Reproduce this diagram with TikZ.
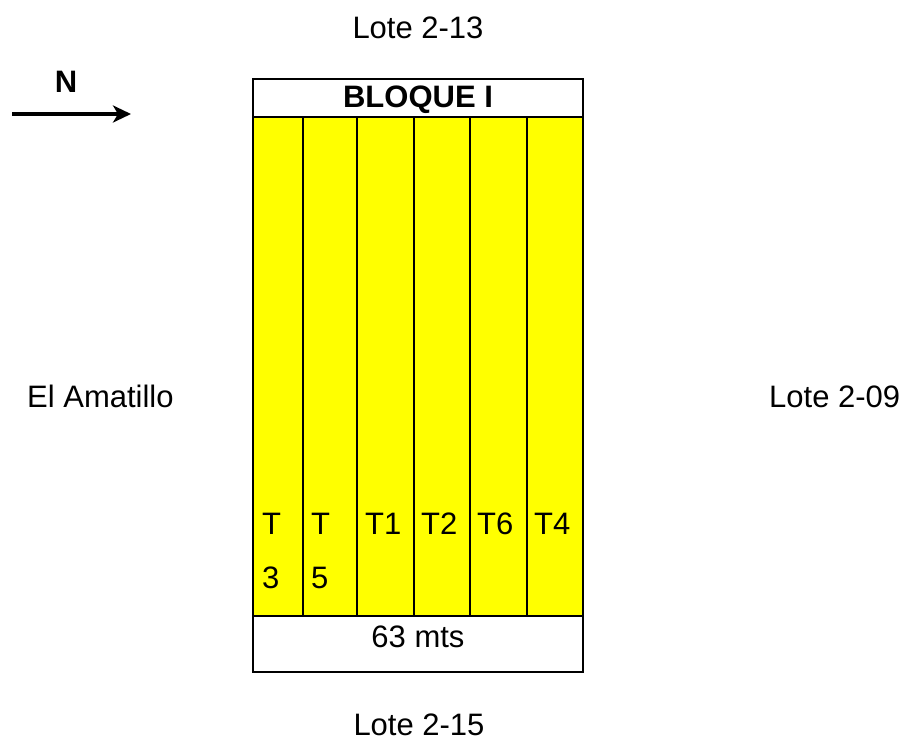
\documentclass[tikz,border=0pt]{standalone}
\usepackage{fontspec}
\setmainfont{Liberation Sans}
\usetikzlibrary{arrows.meta}
\definecolor{plotyellow}{RGB}{255,255,0}
\tikzset{
  lbl/.style={inner sep=0pt, font=\fontsize{31}{37}\selectfont},
  trt/.style={inner sep=0pt, anchor=base west, align=left,
              font=\fontsize{31}{54}\selectfont},
  frame/.style={draw=black, line width=2.2pt},
  divider/.style={draw=black, line width=2pt},
}
\begin{document}
\begin{tikzpicture}[x=1pt,y=-1pt]
  \useasboundingbox (0,0) rectangle (904,741);

  % surrounding lots
  \node[lbl, anchor=base] (north) at (418,39) {Lote 2-13};
  \node[lbl, anchor=base] (south) at (419,735) {Lote 2-15};
  \node[lbl, anchor=base west] (west) at (27,407) {El Amatillo};
  \node[lbl, anchor=base west] (east) at (769,407) {Lote 2-09};

  % north arrow
  \node[lbl, anchor=base, font=\bfseries\fontsize{31}{37}\selectfont] (nlabel) at (66,93) {N};
  \coordinate (arrS) at (12,114);
  \coordinate (arrE) at (131,114);
  \draw[line width=4.5pt, -{Stealth[length=18pt,width=17pt,inset=5pt]}] (arrS) -- (arrE);

  % block: yellow plots
  \fill[plotyellow] (253,117) rectangle (583,616);
  \foreach \x in {302.5,357,413.5,470,527}
    \draw[divider] (\x,117) -- (\x,616);
  \draw[divider] (253,117) -- (583,117);
  \draw[divider] (253,616) -- (583,616);
  \draw[frame] (253,79) rectangle (583,672);

  % header and footer
  \node[lbl, anchor=base, font=\bfseries\fontsize{31}{37}\selectfont] (header) at (418,108) {BLOQUE I};
  \node[lbl, anchor=base] (width) at (418,647) {63 mts};

  % treatment labels (narrow plots wrap onto two lines)
  \node[trt] (t3) at (262,588) {T\\3};
  \node[trt] (t5) at (311,588) {T\\5};
  \node[trt] (t1) at (365,534) {T1};
  \node[trt] (t2) at (421,534) {T2};
  \node[trt] (t6) at (477,534) {T6};
  \node[trt] (t4) at (534,534) {T4};
\end{tikzpicture}
\end{document}
